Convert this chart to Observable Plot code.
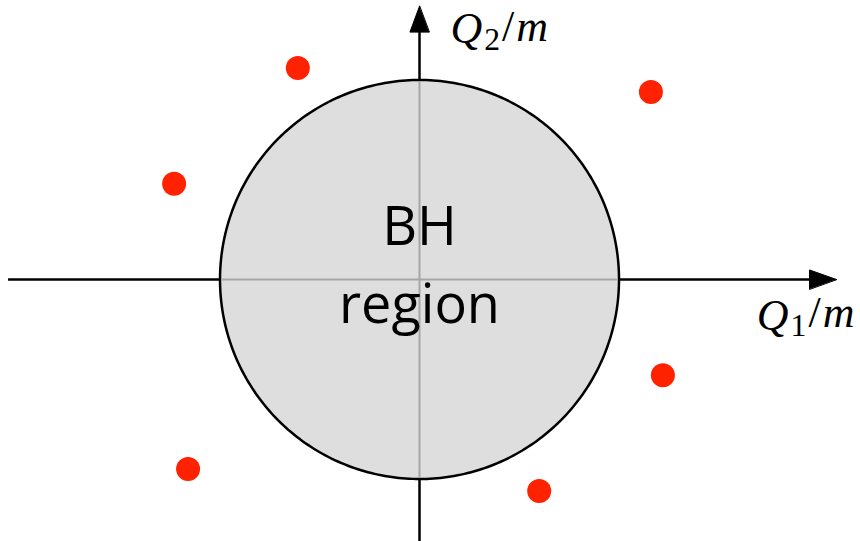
<!DOCTYPE html>
<html>
<head>
<meta charset="utf-8">
<script src="https://cdn.jsdelivr.net/npm/d3@7"></script>
<script src="https://cdn.jsdelivr.net/npm/@observablehq/plot@0.6"></script>
<style>
  html, body { margin: 0; padding: 0; background: #fff; }
  #chart svg { display: block; }
  #chart text.math { font-family: "Liberation Serif", "DejaVu Serif", serif; }
</style>
</head>
<body>
<div id="chart"></div>
<script>
// Charge plane in units of the black-hole bound radius (|Q|/m = 1)
const bhRadius = 1;

// Charge configurations lying outside the black-hole region
const pointsQ1 = [-0.61, 1.16, -1.23, 1.22, -1.16, 0.60];
const pointsQ2 = [1.06, 0.94, 0.48, -0.48, -0.95, -1.06];

// Region label lines and axis labels
const regionLines = ["BH", "region"];
const regionLineY = [0.175, -0.216];
const axisLabels = ["Q_1/m", "Q_2/m"];
const axisLabelX = [2.19, 0.155];
const axisLabelY = [-0.251, 1.183];

const points = pointsQ1.map((q1, i) => ({q1, q2: pointsQ2[i]}));
const boundary = d3.range(0, 360, 1).map(a => ({
  q1: bhRadius * Math.cos(a * Math.PI / 180),
  q2: bhRadius * Math.sin(a * Math.PI / 180)
}));

// Axis extents and filled arrowheads
const xAxisEnd = 2.09, xHeadLen = 0.135, yAxisEnd = 1.37, yHeadLen = 0.13, headHalf = 0.048;
const xHead = [
  {q1: xAxisEnd, q2: 0},
  {q1: xAxisEnd - xHeadLen, q2: headHalf},
  {q1: xAxisEnd - xHeadLen, q2: -headHalf}
];
const yHead = [
  {q1: 0, q2: yAxisEnd},
  {q1: -headHalf, q2: yAxisEnd - yHeadLen},
  {q1: headHalf, q2: yAxisEnd - yHeadLen}
];

const chart = Plot.plot({
  width: 860,
  height: 541,
  margin: 0,
  x: {domain: [-2.1003, 2.2105], axis: null},
  y: {domain: [-1.3133, 1.3985], axis: null},
  marks: [
    Plot.ruleY([0], {x1: -2.06, x2: xAxisEnd - xHeadLen + 0.01, stroke: "#000", strokeWidth: 2.5}),
    Plot.ruleX([0], {y1: -1.4, y2: yAxisEnd - yHeadLen + 0.01, stroke: "#000", strokeWidth: 2.5}),
    Plot.line(boundary, {x: "q1", y: "q2", curve: "linear-closed", fill: "#dedede", stroke: "#000", strokeWidth: 2.5}),
    Plot.ruleY([0], {x1: -bhRadius + 0.008, x2: bhRadius - 0.008, stroke: "#a6a6a6", strokeWidth: 2}),
    Plot.ruleX([0], {y1: -bhRadius + 0.008, y2: bhRadius - 0.008, stroke: "#a6a6a6", strokeWidth: 2}),
    Plot.line(xHead, {x: "q1", y: "q2", curve: "linear-closed", fill: "#000", stroke: "#000", strokeWidth: 1}),
    Plot.line(yHead, {x: "q1", y: "q2", curve: "linear-closed", fill: "#000", stroke: "#000", strokeWidth: 1}),
    Plot.text(regionLines, {
      x: () => 0, y: (d, i) => regionLineY[i], text: d => d,
      lineAnchor: "bottom", fontSize: 54, fontFamily: "Open Sans", fill: "#000"
    }),
    Plot.text(axisLabels, {
      x: (d, i) => axisLabelX[i], y: (d, i) => axisLabelY[i], text: d => d,
      lineAnchor: "bottom", fontSize: 44, fill: "#000"
    }),
    Plot.dot(points, {x: "q1", y: "q2", r: 12, fill: "#ff2200", stroke: "none"})
  ]
});

// Typeset "Q_n/m" labels: italic symbols with an upright subscript
d3.select(chart).selectAll("text").each(function () {
  const t = this.textContent;
  if (!t.includes("_")) return;
  const [sym, rest] = t.split("_");
  const sub = rest[0], tail = rest.slice(1);
  const el = d3.select(this);
  el.text(null)
    .attr("class", "math")
    .attr("text-anchor", sub === "1" ? "end" : "start")
    .attr("letter-spacing", "2px");
  el.append("tspan").attr("font-style", "italic").text(sym);
  el.append("tspan").attr("font-size", "0.72em").attr("dy", "0.2em").text(sub);
  el.append("tspan").attr("dy", "-0.2em").text(tail[0]);
  el.append("tspan").attr("font-style", "italic").text(tail.slice(1));
});

document.getElementById("chart").appendChild(chart);
</script>
</body>
</html>
